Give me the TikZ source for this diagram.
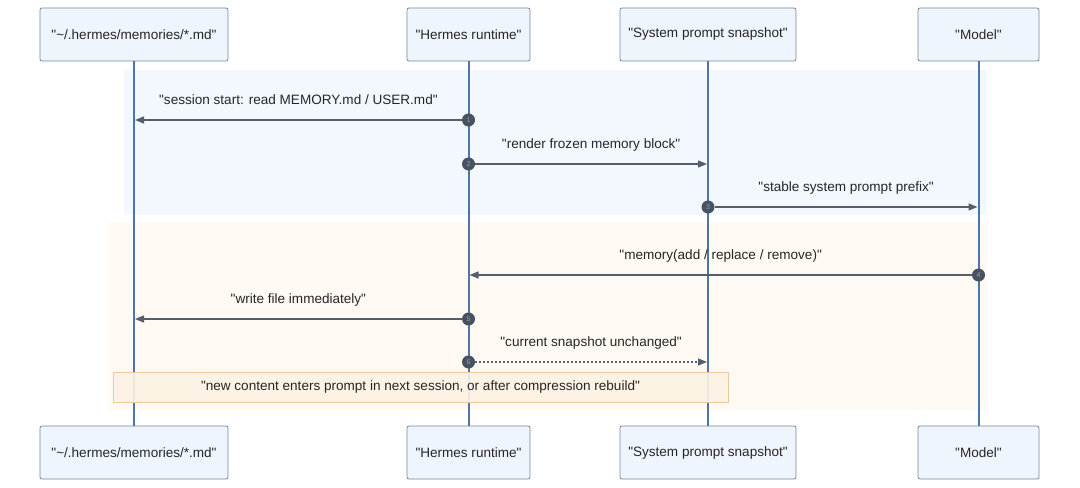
\documentclass[tikz,border=0pt]{standalone}
\usepackage{fontspec}
\setmainfont{Liberation Sans}
\usetikzlibrary{arrows.meta, positioning}
\definecolor{boxfill}{RGB}{238,245,253}
\definecolor{boxline}{RGB}{120,135,155}
\definecolor{lifeblue}{RGB}{78,116,170}
\definecolor{msgline}{RGB}{85,94,108}
\definecolor{dotfill}{RGB}{72,82,98}
\definecolor{dottext}{RGB}{150,160,175}
\definecolor{bandblue}{RGB}{243,248,254}
\definecolor{bandorange}{RGB}{254,250,243}
\definecolor{notefill}{RGB}{253,243,228}
\definecolor{noteline}{RGB}{232,204,160}
\newcommand\qt[1]{\textquotedbl#1\textquotedbl}
\tikzset{
x=1bp, y=-1bp,
>={Triangle[length=9bp,width=7bp]},
text=black!85,
actor/.style={%
    rectangle,
    rounded corners=2bp,
    draw=boxline,
    fill=boxfill,
    line width=0.8bp,
    minimum height=53bp,
    font=\fontsize{13.6}{16}\selectfont
},
lifeline/.style={draw=lifeblue, line width=2bp},
msg/.style={->, draw=msgline, line width=1.3bp},
reply/.style={msg, dash pattern=on 2bp off 2bp},
stepdot/.style={%
    circle, inner sep=0pt, minimum size=13bp, fill=dotfill, text=dottext,
    font=\fontsize{7}{8}\selectfont
},
msglabel/.style={anchor=base, inner sep=0pt, yshift=15bp, font=\fontsize{13.6}{16}\selectfont},
band/.style={draw=none},
note/.style={%
    rectangle, draw=noteline, fill=notefill, line width=0.8bp,
    minimum width=615bp, minimum height=30bp,
    font=\fontsize{13.6}{16}\selectfont
},
}

\begin{document}
\begin{tikzpicture}
	\useasboundingbox (0,0) rectangle (1080,488);
	% phases
	\fill[band, bandblue] (124,70) rectangle (987,215);
	\fill[band, bandorange] (108,223) rectangle (987,410);

	% participants
	\node[actor, minimum width=188bp] (mem) at (134,34.5) {\qt{\textasciitilde/.hermes/memories/*.md}};
	\node[actor, minimum width=123bp] (rt) at (468.5,34.5) {\qt{Hermes runtime}};
	\node[actor, minimum width=176bp] (snap) at (708,34.5) {\qt{System prompt snapshot}};
	\node[actor, minimum width=121bp] (model) at (978.5,34.5) {\qt{Model}};
	\node[actor, minimum width=188bp] (memB) at (134,452.5) {\qt{\textasciitilde/.hermes/memories/*.md}};
	\node[actor, minimum width=123bp] (rtB) at (468.5,452.5) {\qt{Hermes runtime}};
	\node[actor, minimum width=176bp] (snapB) at (708,452.5) {\qt{System prompt snapshot}};
	\node[actor, minimum width=121bp] (modelB) at (978.5,452.5) {\qt{Model}};

	\foreach \p in {mem, rt, snap, model}
		\draw[lifeline] (\p) -- (\p B);

	% steps
	\node[stepdot] (s1) at (468.5,120) {1};
	\node[stepdot] (s2) at (468.5,164) {2};
	\node[stepdot] (s3) at (708,207) {3};
	\node[stepdot] (s4) at (978.5,275) {4};
	\node[stepdot] (s5) at (468.5,319) {5};
	\node[stepdot] (s6) at (468.5,362) {6};
	\coordinate (e1) at (135,120);
	\coordinate (e2) at (707,164);
	\coordinate (e3) at (977.5,207);
	\coordinate (e4) at (469.5,275);
	\coordinate (e5) at (135,319);
	\coordinate (e6) at (707,362);

	\draw[msg] (s1) -- (e1) node[msglabel, midway] {\qt{session start: read MEMORY.md / USER.md}};
	\draw[msg] (s2) -- (e2) node[msglabel, midway] {\qt{render frozen memory block}};
	\draw[msg] (s3) -- (e3) node[msglabel, midway] {\qt{stable system prompt prefix}};
	\draw[msg] (s4) -- (e4) node[msglabel, midway] {\qt{memory(add / replace / remove)}};
	\draw[msg] (s5) -- (e5) node[msglabel, midway] {\qt{write file immediately}};
	\draw[reply] (s6) -- (e6) node[msglabel, midway] {\qt{current snapshot unchanged}};

	\node[note, fill opacity=0.9, text opacity=1] (info) at (420.5,387) {\qt{new content enters prompt in next session, or after compression rebuild}};
\end{tikzpicture}
\end{document}
